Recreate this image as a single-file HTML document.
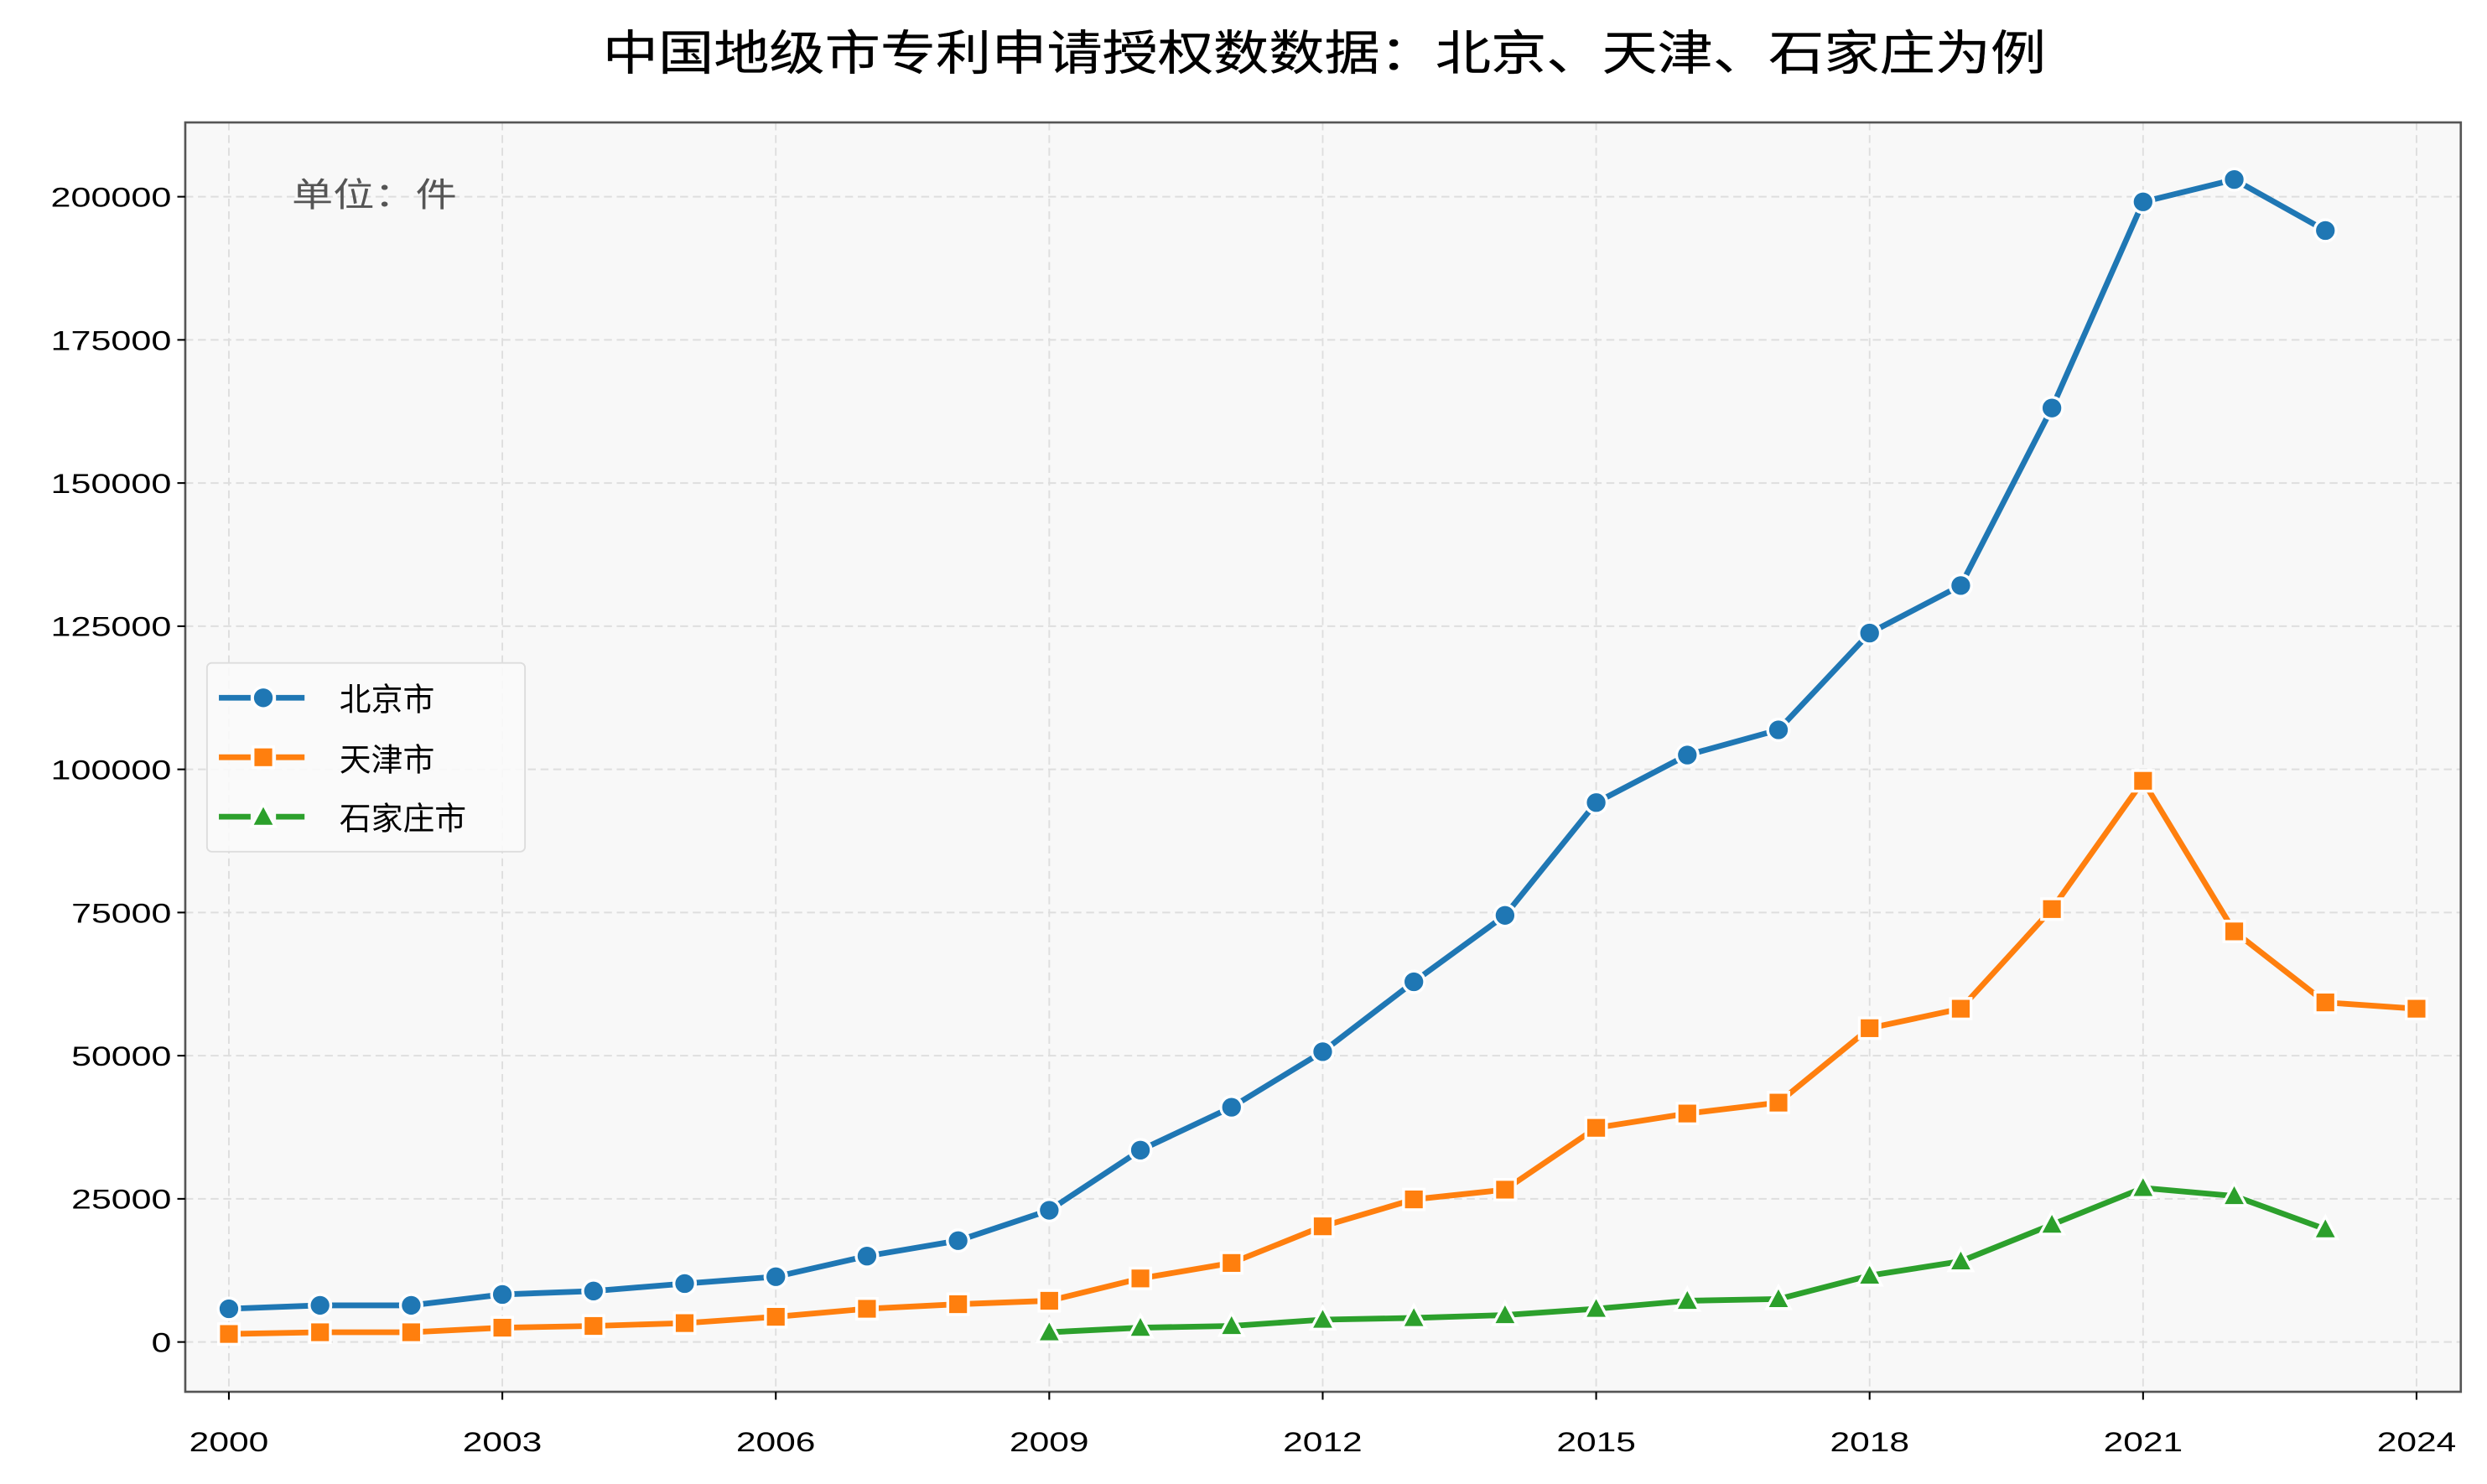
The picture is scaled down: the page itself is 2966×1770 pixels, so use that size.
<!DOCTYPE html>
<html><head><meta charset="utf-8"><style>
html,body{margin:0;padding:0;background:#fff;}
svg{display:block;}
text{font-family:"Liberation Sans","Noto Sans CJK SC",sans-serif;}
</style></head><body>
<svg id="s" width="2966" height="1770" viewBox="0 0 1568 935.74" xmlns="http://www.w3.org/2000/svg">
<rect x="0" y="0" width="1568" height="936" fill="#fff"/>
<text x="835" y="44" font-size="30" text-anchor="middle" textLength="910" lengthAdjust="spacingAndGlyphs" fill="#000" stroke="#000" stroke-width="0.15">中国地级市专利申请授权数数据：北京、天津、石家庄为例</text>
<rect x="116.8" y="77.2" width="1434.7" height="800.4" fill="#f8f8f8"/>
<g id="grid" stroke="#dedede" stroke-width="1" stroke-dasharray="5,3" fill="none"></g>
<g id="series"></g>
<rect x="116.8" y="77.2" width="1434.7" height="800.4" fill="none" stroke="#555" stroke-width="1.4"/>
<g id="ticks" stroke="#000" stroke-width="1.1"></g>
<g font-size="17" fill="#000" text-anchor="end">
<text x="108" y="852.5" textLength="12.5" lengthAdjust="spacingAndGlyphs">0</text>
<text x="108" y="762.2" textLength="63" lengthAdjust="spacingAndGlyphs">25000</text>
<text x="108" y="671.9" textLength="63" lengthAdjust="spacingAndGlyphs">50000</text>
<text x="108" y="581.7" textLength="63" lengthAdjust="spacingAndGlyphs">75000</text>
<text x="108" y="491.4" textLength="76" lengthAdjust="spacingAndGlyphs">100000</text>
<text x="108" y="401.1" textLength="76" lengthAdjust="spacingAndGlyphs">125000</text>
<text x="108" y="310.9" textLength="76" lengthAdjust="spacingAndGlyphs">150000</text>
<text x="108" y="220.6" textLength="76" lengthAdjust="spacingAndGlyphs">175000</text>
<text x="108" y="130.3" textLength="76" lengthAdjust="spacingAndGlyphs">200000</text>
</g>
<g font-size="17" fill="#000" text-anchor="middle">
<text x="144.3" y="915" textLength="50" lengthAdjust="spacingAndGlyphs">2000</text>
<text x="316.7" y="915" textLength="50" lengthAdjust="spacingAndGlyphs">2003</text>
<text x="489.1" y="915" textLength="50" lengthAdjust="spacingAndGlyphs">2006</text>
<text x="661.5" y="915" textLength="50" lengthAdjust="spacingAndGlyphs">2009</text>
<text x="833.9" y="915" textLength="50" lengthAdjust="spacingAndGlyphs">2012</text>
<text x="1006.4" y="915" textLength="50" lengthAdjust="spacingAndGlyphs">2015</text>
<text x="1178.8" y="915" textLength="50" lengthAdjust="spacingAndGlyphs">2018</text>
<text x="1351.2" y="915" textLength="50" lengthAdjust="spacingAndGlyphs">2021</text>
<text x="1523.6" y="915" textLength="50" lengthAdjust="spacingAndGlyphs">2024</text>
</g>
<text x="184" y="130" font-size="21" fill="#555" textLength="104" lengthAdjust="spacingAndGlyphs">单位：件</text>
<rect x="130.5" y="418" width="200.5" height="119" rx="3" fill="#fafafa" fill-opacity="0.9" stroke="#ddd" stroke-width="1"/>
<g id="leg"></g>
<g font-size="20" fill="#000">
<text x="214" y="448">北京市</text>
<text x="214" y="486">天津市</text>
<text x="214" y="523">石家庄市</text>
</g>
</svg>
<script>
var NS="http://www.w3.org/2000/svg";
function el(p,t,a){var e=document.createElementNS(NS,t);for(var k in a)e.setAttribute(k,a[k]);p.appendChild(e);return e;}
var X=function(yr){return 144.3+(yr-2000)*57.47;};
var Y=function(v){return 846.2-v*90.27/25000;};
var g=document.getElementById('grid'),tk=document.getElementById('ticks');
for(var i=0;i<=8;i++){var y=Y(i*25000);el(g,'line',{x1:116.8,x2:1551.5,y1:y,y2:y});el(tk,'line',{x1:111.8,x2:116.8,y1:y,y2:y});}
for(var yr=2000;yr<=2024;yr+=3){var x=X(yr);el(g,'line',{x1:x,x2:x,y1:77.2,y2:877.6});el(tk,'line',{x1:x,x2:x,y1:877.6,y2:882.6});}
var bj=[5800,6400,6400,8300,8900,10200,11400,15000,17700,23000,33500,41000,50700,62900,74500,94200,102500,106900,123800,132100,163100,199100,203000,194100];
var tj=[1400,1700,1700,2500,2800,3300,4400,5800,6600,7200,11100,13800,20200,24900,26600,37400,39900,41800,54800,58200,75600,98000,71700,59300,58200];
var sj=[1700,2500,2800,3900,4200,4700,5800,7200,7500,11600,14100,20500,26900,25500,19700];
var S=document.getElementById('series');
function marker(p,type,x,y,c){
 if(type=='o')el(p,'circle',{cx:x,cy:y,r:6.8,fill:c,stroke:'#fff','stroke-width':1.8});
 else if(type=='s')el(p,'rect',{x:x-6.5,y:y-6.5,width:13,height:13,fill:c,stroke:'#fff','stroke-width':1.8});
 else el(p,'polygon',{points:(x)+','+(y-8)+' '+(x-7.5)+','+(y+6)+' '+(x+7.5)+','+(y+6),fill:c,stroke:'#fff','stroke-width':1.8});
}
function series(d,start,c,type){
 var pts=d.map(function(v,i){return [X(start+i),Y(v)];});
 el(S,'polyline',{points:pts.map(function(p){return p.join(',');}).join(' '),fill:'none',stroke:c,'stroke-width':3.6,'stroke-linejoin':'round'});
 pts.forEach(function(p){marker(S,type,p[0],p[1],c);});
}
series(sj,2009,'#2ca02c','^');
series(tj,2000,'#ff7f0e','s');
series(bj,2000,'#1f77b4','o');
var L=document.getElementById('leg');
[[440,'#1f77b4','o'],[477.5,'#ff7f0e','s'],[515,'#2ca02c','^']].forEach(function(r){
 el(L,'line',{x1:138,x2:158,y1:r[0],y2:r[0],stroke:r[1],'stroke-width':3.6});
 el(L,'line',{x1:174,x2:192,y1:r[0],y2:r[0],stroke:r[1],'stroke-width':3.6});
 marker(L,r[2],166,r[0],r[1]);
});
</script>
</body></html>
